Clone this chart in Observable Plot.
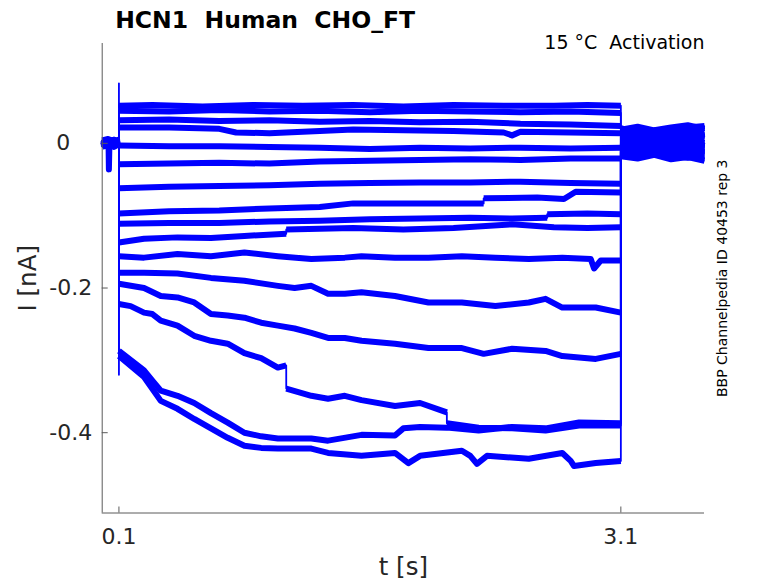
<!DOCTYPE html>
<html><head><meta charset="utf-8">
<script src="https://cdn.jsdelivr.net/npm/d3@7"></script>
<script src="https://cdn.jsdelivr.net/npm/@observablehq/plot@0.6"></script>
<style>html,body{margin:0;padding:0;background:#fff}#chart{width:778px;height:583px}</style>
</head><body><div id="chart"></div><script>
// axes
const xDomain = [0, 3.6];
const yDomain = [-0.511, 0.138];
const xTicks = [0.1, 3.1];
const yTicks = [-0.2, -0.4];
const yZeroTick = [0];
// texts
const titleText = "HCN1\u00a0\u00a0Human\u00a0\u00a0CHO_FT";
const subText = "15 \u00b0C\u00a0\u00a0Activation";
const xLabel = "t [s]";
const yLabel = "I [nA]";
const sideText = "BBP Channelpedia ID 40453 rep 3";

// traces: [t (s), I (nA)]
const trace01 = [[0,0.004],[0.035,0.006],[0.07,0.003],[0.1,0.005],[0.1,0.083],[0.1,0.052],[0.3,0.053],[0.6,0.051],[0.9,0.053],[1.2,0.052],[1.5,0.053],[1.8,0.051],[2.1,0.053],[2.4,0.052],[2.7,0.052],[2.9,0.053],[3.1,0.052],[3.1,0.016],[3.2,0.019],[3.3,0.015],[3.4,0.020],[3.5,0.017],[3.6,0.021]];
const trace02 = [[0,-0.002],[0.035,0.003],[0.07,-0.001],[0.1,0.002],[0.1,0.045],[0.4,0.044],[0.7,0.046],[1.0,0.044],[1.3,0.045],[1.6,0.043],[1.9,0.045],[2.2,0.044],[2.5,0.043],[2.8,0.044],[3.1,0.042],[3.1,0.010],[3.2,0.006],[3.3,0.011],[3.4,0.008],[3.5,0.012],[3.6,0.009]];
const trace03 = [[0,0.001],[0.035,-0.004],[0.07,0.004],[0.1,-0.001],[0.1,0.032],[0.4,0.033],[0.7,0.031],[1.0,0.032],[1.3,0.030],[1.6,0.031],[1.9,0.029],[2.2,0.030],[2.5,0.027],[2.8,0.026],[3.1,0.024],[3.1,0.021],[3.2,0.013],[3.3,0.018],[3.4,0.014],[3.5,0.022],[3.6,0.024]];
const trace04 = [[0,0.003],[0.035,0.000],[0.07,-0.004],[0.1,0.001],[0.1,0.022],[0.4,0.022],[0.7,0.020],[0.8,0.015],[1.0,0.014],[1.2,0.016],[1.5,0.019],[1.8,0.018],[2.1,0.017],[2.4,0.015],[2.45,0.011],[2.5,0.016],[2.8,0.015],[3.1,0.014],[3.1,0.005],[3.2,0.002],[3.3,0.007],[3.4,0.003],[3.5,0.006],[3.6,0.001]];
const trace05 = [[0,-0.004],[0.035,0.002],[0.07,0.005],[0.1,-0.003],[0.1,-0.003],[0.4,-0.004],[0.7,-0.004],[1.0,-0.005],[1.3,-0.006],[1.6,-0.008],[1.9,-0.006],[2.2,-0.007],[2.5,-0.006],[2.8,-0.007],[3.1,-0.006],[3.1,-0.001],[3.2,0.003],[3.3,-0.002],[3.4,0.001],[3.5,-0.003],[3.6,0.000]];
const trace06 = [[0,0.005],[0.035,-0.002],[0.07,0.001],[0.1,0.004],[0.1,-0.029],[0.4,-0.028],[0.7,-0.027],[1.0,-0.028],[1.3,-0.025],[1.6,-0.024],[1.9,-0.023],[2.2,-0.022],[2.5,-0.023],[2.8,-0.021],[3.1,-0.021],[3.1,0.013],[3.2,0.017],[3.3,0.012],[3.4,0.016],[3.5,0.011],[3.6,0.015]];
const trace07 = [[0,-0.001],[0.035,-0.005],[0.07,0.002],[0.1,-0.002],[0.1,-0.062],[0.4,-0.060],[0.7,-0.059],[1.0,-0.058],[1.3,-0.056],[1.6,-0.055],[1.9,-0.054],[2.2,-0.054],[2.5,-0.053],[2.8,-0.055],[3.1,-0.056],[3.1,-0.004],[3.2,-0.008],[3.3,-0.003],[3.4,-0.007],[3.5,-0.002],[3.6,-0.006]];
const trace08 = [[0,0.002],[0.038,0.001],[0.040,-0.036],[0.043,-0.003],[0.07,0.003],[0.1,0.000],[0.1,-0.097],[0.4,-0.094],[0.7,-0.093],[1.0,-0.090],[1.3,-0.088],[1.5,-0.083],[1.9,-0.083],[2.28,-0.083],[2.28,-0.076],[2.6,-0.075],[2.76,-0.077],[2.83,-0.067],[3.1,-0.068],[3.1,0.009],[3.2,0.004],[3.3,0.010],[3.4,0.006],[3.5,0.012],[3.6,0.007]];
const trace09 = [[0,-0.003],[0.035,0.004],[0.07,-0.002],[0.1,0.003],[0.1,-0.111],[0.4,-0.110],[0.7,-0.110],[1.0,-0.108],[1.3,-0.107],[1.6,-0.105],[1.9,-0.104],[2.2,-0.103],[2.45,-0.104],[2.66,-0.103],[2.66,-0.098],[2.9,-0.097],[3.1,-0.098],[3.1,-0.010],[3.2,-0.013],[3.3,-0.008],[3.4,-0.012],[3.5,-0.015],[3.6,-0.011]];
const trace10 = [[0,0.001],[0.035,0.005],[0.07,-0.003],[0.1,0.002],[0.1,-0.137],[0.25,-0.132],[0.45,-0.130],[0.65,-0.131],[0.85,-0.128],[1.1,-0.125],[1.1,-0.119],[1.3,-0.118],[1.5,-0.117],[1.8,-0.119],[2.1,-0.117],[2.45,-0.112],[2.7,-0.116],[2.9,-0.117],[3.1,-0.116],[3.1,0.001],[3.2,-0.003],[3.3,0.002],[3.4,-0.002],[3.5,0.003],[3.6,-0.004]];
const trace11 = [[0,-0.005],[0.035,-0.001],[0.07,0.003],[0.1,-0.004],[0.1,-0.156],[0.25,-0.158],[0.45,-0.153],[0.65,-0.156],[0.85,-0.151],[1.05,-0.156],[1.25,-0.160],[1.45,-0.158],[1.55,-0.156],[1.75,-0.158],[1.95,-0.158],[2.15,-0.156],[2.35,-0.158],[2.55,-0.160],[2.75,-0.158],[2.92,-0.160],[2.94,-0.173],[2.98,-0.162],[3.1,-0.162],[3.1,-0.014],[3.2,-0.018],[3.3,-0.012],[3.4,-0.017],[3.5,-0.020],[3.6,-0.016]];
const trace12 = [[0,0.002],[0.035,-0.003],[0.07,0.005],[0.1,0.001],[0.1,-0.179],[0.25,-0.179],[0.45,-0.180],[0.65,-0.186],[0.85,-0.190],[1.05,-0.197],[1.15,-0.200],[1.25,-0.197],[1.35,-0.208],[1.45,-0.208],[1.55,-0.206],[1.75,-0.211],[1.95,-0.220],[2.15,-0.220],[2.35,-0.225],[2.55,-0.220],[2.65,-0.215],[2.75,-0.227],[2.95,-0.227],[3.1,-0.234],[3.1,-0.006],[3.2,-0.002],[3.3,-0.007],[3.4,-0.004],[3.5,-0.009],[3.6,-0.005]];
const trace13 = [[0,-0.002],[0.035,0.002],[0.07,-0.005],[0.1,-0.001],[0.1,-0.194],[0.25,-0.200],[0.35,-0.211],[0.45,-0.213],[0.55,-0.220],[0.65,-0.236],[0.75,-0.238],[0.85,-0.241],[0.95,-0.248],[1.05,-0.252],[1.15,-0.256],[1.25,-0.262],[1.35,-0.269],[1.45,-0.269],[1.55,-0.273],[1.75,-0.277],[1.95,-0.283],[2.15,-0.283],[2.28,-0.291],[2.45,-0.284],[2.65,-0.287],[2.75,-0.294],[2.95,-0.298],[3.1,-0.291],[3.1,0.006],[3.2,0.010],[3.3,0.005],[3.4,0.011],[3.5,0.007],[3.6,0.013]];
const trace14 = [[0,0.003],[0.035,-0.001],[0.07,0.002],[0.1,0.003],[0.1,-0.222],[0.17,-0.225],[0.25,-0.234],[0.3,-0.236],[0.35,-0.245],[0.45,-0.252],[0.55,-0.266],[0.65,-0.273],[0.75,-0.277],[0.85,-0.290],[0.95,-0.297],[1.05,-0.310],[1.1,-0.307],[1.1,-0.339],[1.25,-0.349],[1.35,-0.353],[1.45,-0.349],[1.55,-0.355],[1.75,-0.363],[1.9,-0.359],[2.06,-0.372],[2.06,-0.387],[2.25,-0.393],[2.45,-0.394],[2.65,-0.397],[2.85,-0.390],[3.1,-0.390],[3.1,-0.012],[3.2,-0.016],[3.3,-0.010],[3.4,-0.014],[3.5,-0.008],[3.6,-0.013]];
const trace15 = [[0,-0.001],[0.035,0.003],[0.07,-0.001],[0.1,-0.002],[0.1,-0.287],[0.25,-0.314],[0.3,-0.328],[0.35,-0.342],[0.45,-0.349],[0.55,-0.359],[0.65,-0.373],[0.75,-0.386],[0.85,-0.400],[0.95,-0.405],[1.05,-0.408],[1.25,-0.408],[1.35,-0.411],[1.55,-0.403],[1.75,-0.404],[1.8,-0.394],[1.9,-0.392],[2.06,-0.393],[2.25,-0.397],[2.45,-0.392],[2.65,-0.394],[2.85,-0.386],[3.1,-0.387],[3.1,-0.018],[3.2,-0.021],[3.3,-0.016],[3.4,-0.022],[3.5,-0.019],[3.6,-0.024]];
const trace16 = [[0,0.004],[0.035,0.000],[0.07,0.004],[0.1,0.001],[0.1,-0.320],[0.1,-0.294],[0.25,-0.323],[0.35,-0.356],[0.45,-0.367],[0.55,-0.381],[0.65,-0.394],[0.75,-0.407],[0.85,-0.418],[0.95,-0.421],[1.05,-0.422],[1.25,-0.422],[1.35,-0.428],[1.55,-0.432],[1.75,-0.428],[1.83,-0.442],[1.9,-0.432],[2.15,-0.425],[2.2,-0.432],[2.24,-0.443],[2.3,-0.432],[2.55,-0.436],[2.75,-0.428],[2.8,-0.439],[2.82,-0.446],[2.95,-0.442],[3.1,-0.439],[3.1,0.019],[3.2,0.023],[3.3,0.018],[3.4,0.022],[3.5,0.025],[3.6,0.020]];

const traceList = [trace01,trace02,trace03,trace04,trace05,trace06,trace07,trace08,trace09,trace10,trace11,trace12,trace13,trace14,trace15,trace16];

// long-format table; a new "piece" starts after each instantaneous jump
const rows = [];
traceList.forEach((tr, i) => {
  let piece = 0;
  tr.forEach((p, j) => {
    if (j > 0 && p[0] === tr[j - 1][0]) piece++;
    rows.push({trace: i, key: i + "-" + piece, t: p[0], I: p[1]});
  });
});
const pieceSize = d3.rollup(rows, v => v.length, d => d.key);
const bandRows = rows.filter(d => pieceSize.get(d.key) > 1);

const W = 778, H = 583, mL = 101.7, mR = 74, mT = 43, mB = 70.5;
const frameW = W - mL - mR, frameH = H - mT - mB;
const axisColor = "#5a5a5a", textColor = "#262626", blue = "#0000ff";

const chart = Plot.plot({
  width: W, height: H,
  marginLeft: mL, marginRight: mR, marginTop: mT, marginBottom: mB,
  style: {fontFamily: "'DejaVu Sans', sans-serif", background: "#fff", overflow: "visible"},
  x: {domain: xDomain, label: null},
  y: {domain: yDomain, label: null},
  marks: [
    Plot.line(rows, {x: "t", y: "I", z: "trace", stroke: blue, strokeWidth: 1.8, strokeLinecap: "butt"}),
    Plot.line(bandRows, {x: "t", y: "I", z: "key", stroke: blue, strokeWidth: 6, strokeLinejoin: "round", strokeLinecap: "butt"}),
    Plot.ruleX([xDomain[0]], {stroke: axisColor, strokeWidth: 1}),
    Plot.ruleY([yDomain[0]], {stroke: axisColor, strokeWidth: 1}),
    Plot.tickX(xTicks, {x: d => d, stroke: axisColor, insetTop: frameH - 6}),
    Plot.tickY([...yZeroTick, ...yTicks], {y: d => d, stroke: axisColor, insetRight: frameW - 6}),
    Plot.axisX({ticks: xTicks, tickSize: 0, tickPadding: 15, fontSize: 22, tickFormat: d => String(d), fill: textColor, label: null}),
    Plot.axisY({ticks: yTicks, tickSize: 0, tickPadding: 10, fontSize: 22, tickFormat: d => d.toFixed(1), fill: textColor, label: null}),
    Plot.axisY({ticks: yZeroTick, tickSize: 0, tickPadding: 32, fontSize: 22, tickFormat: d => String(d), fill: textColor, label: null}),
    Plot.text([titleText], {text: d => d, frameAnchor: "top-left", textAnchor: "start", lineAnchor: "bottom", dx: 13, dy: -16, fontSize: 23.5, fontWeight: "bold", fill: "#000"}),
    Plot.text([subText], {text: d => d, frameAnchor: "top-right", textAnchor: "end", lineAnchor: "bottom", dx: 0, dy: 5, fontSize: 19, fill: "#000"}),
    Plot.text([xLabel], {text: d => d, frameAnchor: "bottom", textAnchor: "middle", lineAnchor: "bottom", dy: 62, fontSize: 24.5, fill: textColor}),
    Plot.text([yLabel], {text: d => d, frameAnchor: "left", textAnchor: "middle", lineAnchor: "middle", rotate: -90, dx: -74, fontSize: 24.5, fill: textColor}),
    Plot.text([sideText], {text: d => d, frameAnchor: "right", textAnchor: "middle", lineAnchor: "middle", rotate: -90, dx: 18, fontSize: 14, fill: "#000"})
  ]
});
document.getElementById("chart").appendChild(chart);
</script></body></html>
